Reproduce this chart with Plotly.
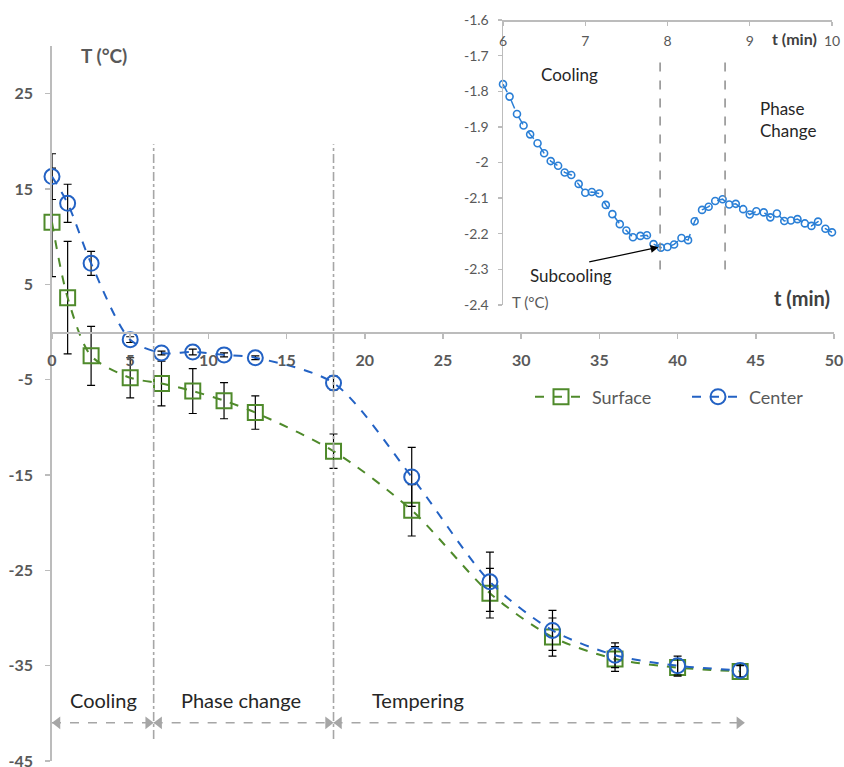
import plotly.graph_objects as go

# ---------------- data ----------------
t_main = [0, 1, 2.5, 5, 7, 9, 11, 13, 18, 23, 28, 32, 36, 40, 44]
surface_T = [11.5, 3.6, -2.5, -4.8, -5.4, -6.2, -7.2, -8.45, -12.5, -18.7, -27.4, -32.0, -34.3, -35.2, -35.6]
surface_err = [5.7, 5.9, 3.1, 2.1, 2.35, 2.35, 1.9, 1.75, 1.8, 2.7, 2.6, 2.0, 1.3, 0.9, 0.6]
center_T = [16.3, 13.5, 7.2, -0.8, -2.2, -2.1, -2.4, -2.7, -5.35, -15.2, -26.2, -31.3, -33.9, -35.0, -35.5]
center_err = [2.4, 2.0, 1.25, 0.3, 0.2, 0.3, 0.2, 0.2, 0.75, 3.1, 3.1, 2.1, 1.3, 1.0, 0.7]

main_x_ticks = [0, 5, 10, 15, 20, 25, 30, 35, 40, 45, 50]
main_y_ticks = [-45, -35, -25, -15, -5, 5, 15, 25]
main_y_ticktext = ["-45", "-35", "-25", "-15", "-5", "5", "15", "25"]

phase_bounds = [6.5, 18]
phase_spans = [(0, 6.5), (6.5, 18), (18, 44.3)]
phase_labels = ["Cooling", "Phase change", "Tempering"]
phase_label_x = [3.3, 12.1, 23.4]

t_inset = [6.00, 6.08, 6.17, 6.25, 6.33, 6.42, 6.50, 6.58, 6.67, 6.75, 6.83, 6.92,
           7.00, 7.08, 7.17, 7.25, 7.33, 7.42, 7.50, 7.58, 7.67, 7.75, 7.83, 7.92,
           8.00, 8.08, 8.17, 8.25, 8.33, 8.42, 8.50, 8.58, 8.67, 8.75, 8.83, 8.92,
           9.00, 9.08, 9.17, 9.25, 9.33, 9.42, 9.50, 9.58, 9.67, 9.75, 9.83, 9.92, 10.00]
T_inset = [-1.780, -1.815, -1.864, -1.896, -1.921, -1.946, -1.974, -1.996, -2.009, -2.028,
           -2.035, -2.060, -2.085, -2.083, -2.087, -2.119, -2.145, -2.173, -2.191, -2.210,
           -2.206, -2.204, -2.229, -2.239, -2.237, -2.230, -2.212, -2.218, -2.165, -2.133,
           -2.124, -2.108, -2.103, -2.118, -2.116, -2.131, -2.146, -2.137, -2.140, -2.154,
           -2.143, -2.164, -2.163, -2.159, -2.171, -2.178, -2.166, -2.186, -2.196]
inset_x_ticks = [6, 7, 8, 9, 10]
inset_y_ticks = [-2.4, -2.3, -2.2, -2.1, -2.0, -1.9, -1.8, -1.7, -1.6]
inset_y_ticktext = ["-2.4", "-2.3", "-2.2", "-2.1", "-2", "-1.9", "-1.8", "-1.7", "-1.6"]
inset_bounds = [7.91, 8.70]

# ---------------- layout geometry ----------------
# the page's body margin is removed (post_script), so figure pixel == page pixel
W, H = 844, 767
ML, MT, MR, MB = 52, 20, 10, 6
PW, PH = W - ML - MR, H - MT - MB


def px_x(p):  # page pixel -> paper fraction
    return (p - ML) / PW


def px_y(p):
    return (H - MB - p) / PH


FONT = "Lato, Carlito, Calibri, 'Open Sans', sans-serif"
GREEN = "#4f8a2b"
BLUE = "#2362c4"
IBLUE = "#2a7fd6"
AXIS = "#bcbcbc"
GRAYTXT = "#595959"

y_min, y_max = -45, 30
main_top = px_y(46)
x_axis_pos = main_top * (0 - y_min) / (y_max - y_min)

fig = go.Figure()

fig.add_trace(go.Scatter(
    x=t_main, y=surface_T, name="Surface", mode="lines+markers", cliponaxis=False,
    line=dict(color=GREEN, width=2, dash="dash", shape="spline", smoothing=0.8),
    marker=dict(symbol="square-open", size=15, color=GREEN, line=dict(width=2, color=GREEN)),
    error_y=dict(type="data", array=surface_err, visible=True, color="black", thickness=1.2, width=4),
    xaxis="x", yaxis="y"))

fig.add_trace(go.Scatter(
    x=t_main, y=center_T, name="Center", mode="lines+markers", cliponaxis=False,
    line=dict(color=BLUE, width=2, dash="dash", shape="spline", smoothing=0.8),
    marker=dict(symbol="circle-open", size=15, color=BLUE, line=dict(width=2, color=BLUE)),
    error_y=dict(type="data", array=center_err, visible=True, color="black", thickness=1.2, width=4),
    xaxis="x", yaxis="y"))

# phase arrows (dashed line + triangle heads)
arrow_y = -41.0
for a, b in phase_spans:
    fig.add_shape(type="line", x0=a, x1=b, y0=arrow_y, y1=arrow_y, xref="x", yref="y",
                  line=dict(color="#a6a6a6", width=1.5, dash="dash"))
head_off = 0.35
heads_left = [a + head_off for a, b in phase_spans]
heads_right = [b - head_off for a, b in phase_spans]
fig.add_trace(go.Scatter(x=heads_left, y=[arrow_y] * len(heads_left), mode="markers", cliponaxis=False,
                         marker=dict(symbol="triangle-left", size=11, color="#a6a6a6"),
                         showlegend=False, hoverinfo="skip", xaxis="x", yaxis="y"))
fig.add_trace(go.Scatter(x=heads_right, y=[arrow_y] * len(heads_right), mode="markers", cliponaxis=False,
                         marker=dict(symbol="triangle-right", size=11, color="#a6a6a6"),
                         showlegend=False, hoverinfo="skip", xaxis="x", yaxis="y"))

for b in phase_bounds:
    fig.add_shape(type="line", x0=b, x1=b, y0=-42.7, y1=19.7, xref="x", yref="y",
                  line=dict(color="#a6a6a6", width=1.6, dash="dashdot"))

for lx, lab in zip(phase_label_x, phase_labels):
    fig.add_annotation(x=lx, y=-38.6, xref="x", yref="y", text=lab, showarrow=False,
                       yanchor="middle", font=dict(family=FONT, size=20, color="#262626"))

# inset trace
fig.add_trace(go.Scatter(
    x=t_inset, y=T_inset, mode="lines+markers", showlegend=False, cliponaxis=False,
    line=dict(color=IBLUE, width=1.5, dash="dash"),
    marker=dict(symbol="circle-open", size=7, color=IBLUE, line=dict(width=1.6, color=IBLUE)),
    xaxis="x2", yaxis="y2"))

for b in inset_bounds:
    fig.add_shape(type="line", x0=b, x1=b, y0=-2.30, y1=-1.70, xref="x2", yref="y2",
                  line=dict(color="#8c8c8c", width=1.5, dash="dash"))

inset_font = dict(family=FONT, size=17, color="#262626")
fig.add_annotation(x=6.81, y=-1.752, xref="x2", yref="y2", text="Cooling", showarrow=False,
                   yanchor="middle", font=inset_font)
fig.add_annotation(x=9.47, y=-1.88, xref="x2", yref="y2", text="Phase<br>Change", showarrow=False,
                   yanchor="middle", font=inset_font, align="left")
fig.add_annotation(x=6.83, y=-2.318, xref="x2", yref="y2", text="Subcooling", showarrow=False,
                   yanchor="middle", font=inset_font)
fig.add_annotation(x=7.89, y=-2.238, ax=7.03, ay=-2.28, xref="x2", yref="y2", axref="x2", ayref="y2",
                   text="", showarrow=True, arrowhead=2, arrowsize=1.3, arrowwidth=1.2, arrowcolor="black")
fig.add_annotation(x=9.55, y=-1.651, xref="x2", yref="y2", text="<b>t (min)</b>", showarrow=False,
                   yanchor="middle", font=dict(family=FONT, size=16, color="#404040"))
fig.add_annotation(x=6.08, y=-2.392, xref="x2", yref="y2", text="T (°C)", showarrow=False, xanchor="left",
                   yanchor="middle", font=dict(family=FONT, size=15, color=GRAYTXT))

# main axis titles
fig.add_annotation(x=px_x(832), y=px_y(298), xref="paper", yref="paper", text="<b>t (min)</b>",
                   showarrow=False, xanchor="right", yanchor="middle",
                   font=dict(family=FONT, size=20, color="#404040"))
fig.add_annotation(x=px_x(79), y=px_y(55), xref="paper", yref="paper", text="<b>T (°C)</b>",
                   showarrow=False, xanchor="left", yanchor="middle",
                   font=dict(family=FONT, size=19, color=GRAYTXT))

tickfont_main = dict(family=FONT, size=16, color=GRAYTXT, weight="bold")
tickfont_inset = dict(family=FONT, size=14, color=GRAYTXT)

inset_top = px_y(20)

fig.update_layout(
    width=W, height=H,
    margin=dict(l=ML, r=MR, t=MT, b=MB, autoexpand=False),
    paper_bgcolor="white", plot_bgcolor="rgba(0,0,0,0)",
    font=dict(family=FONT),
    showlegend=True,
    legend=dict(orientation="h", x=px_x(530), y=px_y(397), xanchor="left", yanchor="middle",
                font=dict(family=FONT, size=18, color=GRAYTXT), bgcolor="rgba(0,0,0,0)",
                entrywidth=90, entrywidthmode="pixels", itemwidth=52, tracegroupgap=0),
    xaxis=dict(domain=[0, 1], range=[0, 50], anchor="free", position=x_axis_pos,
               tickvals=main_x_ticks, ticks="outside", ticklen=5, tickcolor=AXIS, tickwidth=1.5,
               showline=True, linecolor=AXIS, linewidth=1.8, showgrid=False, zeroline=False,
               tickfont=tickfont_main, ticklabelstandoff=8, automargin=False, fixedrange=True,
               ticklabeloverflow="allow"),
    yaxis=dict(domain=[0, main_top], range=[y_min, y_max], anchor="x",
               tickvals=main_y_ticks, ticktext=main_y_ticktext, ticks="outside", ticklen=5,
               tickcolor=AXIS, tickwidth=1.5,
               showline=True, linecolor=AXIS, linewidth=1.8, showgrid=False, zeroline=False,
               tickfont=tickfont_main, ticklabelstandoff=9, automargin=False,
               ticklabeloverflow="allow"),
    xaxis3=dict(overlaying="x", range=[0, 50], anchor="free", position=x_axis_pos,
                tickvals=main_x_ticks, ticks="inside", ticklen=5, tickcolor=AXIS, tickwidth=1.5,
                showticklabels=False, showline=False, showgrid=False, zeroline=False),
    yaxis3=dict(overlaying="y", range=[y_min, y_max], anchor="x",
                tickvals=main_y_ticks, ticks="inside", ticklen=5, tickcolor=AXIS, tickwidth=1.5,
                showticklabels=False, showline=False, showgrid=False, zeroline=False),
    xaxis2=dict(domain=[px_x(503), px_x(832)], range=[6, 10], anchor="free", position=inset_top,
                side="bottom",
                tickvals=inset_x_ticks, ticks="outside", ticklen=4, tickcolor=AXIS, tickwidth=1.3,
                showline=True, linecolor=AXIS, linewidth=1.5, ticklabelstandoff=4,
                showgrid=False, zeroline=False, tickfont=tickfont_inset, automargin=False,
                ticklabeloverflow="allow"),
    yaxis2=dict(domain=[px_y(305), inset_top], range=[-2.4, -1.6], anchor="x2",
                tickvals=inset_y_ticks, ticktext=inset_y_ticktext, ticks="outside", ticklen=4,
                tickcolor=AXIS, tickwidth=1.3,
                showline=True, linecolor=AXIS, linewidth=1.5, showgrid=False, zeroline=False,
                tickfont=tickfont_inset, ticklabelstandoff=6, automargin=False,
                ticklabeloverflow="allow"),
    xaxis4=dict(overlaying="x2", range=[6, 10], anchor="free", position=inset_top, side="bottom",
                tickvals=inset_x_ticks, ticks="inside", ticklen=4, tickcolor=AXIS, tickwidth=1.3,
                showticklabels=False, showline=False, showgrid=False, zeroline=False),
    yaxis4=dict(overlaying="y2", range=[-2.4, -1.6], anchor="x2",
                tickvals=inset_y_ticks, ticks="inside", ticklen=4, tickcolor=AXIS, tickwidth=1.3,
                showticklabels=False, showline=False, showgrid=False, zeroline=False),
)

fig.write_html("out.html",
               config={"displayModeBar": False, "staticPlot": True},
               post_script="document.body.style.margin='0px';document.body.style.overflow='hidden';")
